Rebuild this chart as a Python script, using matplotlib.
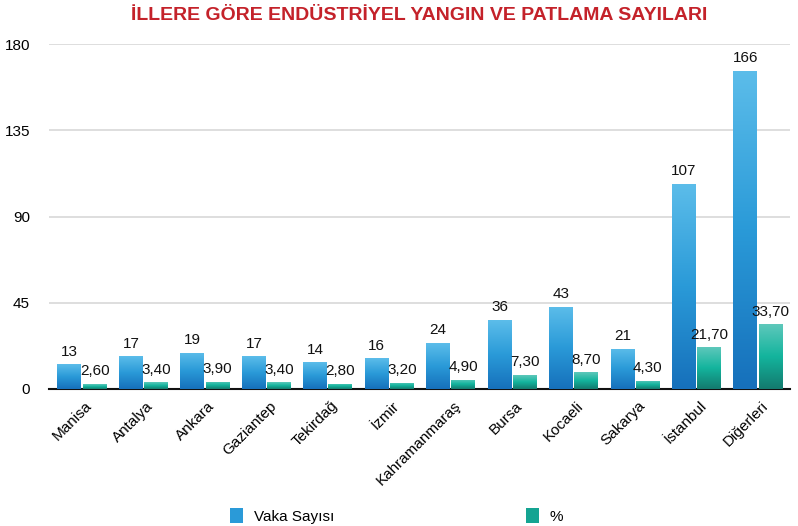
import numpy as np
import matplotlib
matplotlib.use("Agg")
import matplotlib.pyplot as plt
from matplotlib.colors import LinearSegmentedColormap
from matplotlib.patches import Patch
import matplotlib.transforms as mtransforms

plt.rcParams['font.family'] = ['Liberation Sans', 'DejaVu Sans']

# veriler
iller = ['Manisa', 'Antalya', 'Ankara', 'Gaziantep', 'Tekirdağ', 'İzmir',
         'Kahramanmaraş', 'Bursa', 'Kocaeli', 'Sakarya', 'İstanbul', 'Diğerleri']
vaka = [13, 17, 19, 17, 14, 16, 24, 36, 43, 21, 107, 166]
yuzde = [2.60, 3.40, 3.90, 3.40, 2.80, 3.20, 4.90, 7.30, 8.70, 4.30, 21.70, 33.70]
yticks = [0, 45, 90, 135, 180]

blue_cmap = LinearSegmentedColormap.from_list('b', ['#1670bb', '#2a9ad8', '#5cbdea'])
teal_cmap = LinearSegmentedColormap.from_list('t', ['#147a6e', '#13b49d', '#5ec8bb'])

fig = plt.figure(figsize=(7.98, 5.26), dpi=100)
ax = fig.add_axes([0.062, 0.2605, 0.928, 0.6558])

x = np.arange(len(iller))
w = 0.39
gap = 0.02
grad = np.linspace(0, 1, 256).reshape(-1, 1)

def grad_bar(xc, h, cmap):
    bars = ax.bar(xc, h, width=w, color='none', edgecolor='none', zorder=3)
    for b in bars:
        x0, y0 = b.get_x(), b.get_y()
        im = ax.imshow(grad, cmap=cmap, origin='lower', aspect='auto',
                       extent=[x0, x0 + b.get_width(), y0, y0 + b.get_height()],
                       zorder=3)
        im.set_clip_path(b)
    return bars

xb = x - w / 2 - gap / 2
xt = x + w / 2 + gap / 2
grad_bar(xb, vaka, blue_cmap)
grad_bar(xt, yuzde, teal_cmap)

# bar etiketleri
for xi, v in zip(xb, vaka):
    ax.annotate(str(v), (xi, v), xytext=(0, 4), textcoords='offset points',
                ha='center', va='bottom', fontsize=11, color='#111111')
for xi, v in zip(xt, yuzde):
    ax.annotate(f'{v:.2f}'.replace('.', ','), (xi, v), xytext=(0, 4),
                textcoords='offset points', ha='center', va='bottom',
                fontsize=11, color='#111111')

ax.set_xlim(-0.53, 11.52)
ax.set_ylim(0, 180)
ax.set_yticks(yticks)
ax.set_yticklabels([str(t) for t in yticks], fontsize=11)
ax.yaxis.grid(True, color='#d8d8d8', linewidth=1.2, zorder=0)
ax.set_axisbelow(True)
ax.tick_params(axis='y', length=0, pad=14)
ax.tick_params(axis='x', length=0, pad=4)
for s in ['top', 'right', 'left']:
    ax.spines[s].set_visible(False)
ax.spines['bottom'].set_color('#111111')
ax.spines['bottom'].set_linewidth(1.5)
ax.set_xticks(x)
ax.set_xticklabels(iller, rotation=45, ha='right', rotation_mode='anchor', fontsize=11)
offset = mtransforms.ScaledTranslation(2 / 72, -3 / 72, fig.dpi_scale_trans)
for lab in ax.get_xticklabels():
    lab.set_transform(lab.get_transform() + offset)

fig.text(0.525, 0.970, 'İLLERE GÖRE ENDÜSTRİYEL YANGIN VE PATLAMA SAYILARI',
         ha='center', va='center', fontsize=14, fontweight='bold', color='#c4222a')

handles = [Patch(facecolor='#2a9ad8'), Patch(facecolor='#15a492')]
fig.legend(handles, ['Vaka Sayısı', '%'], loc='center', bbox_to_anchor=(0.497, 0.019),
           ncol=2, frameon=False, fontsize=11, columnspacing=12.5, handlelength=0.9,
           handleheight=1.1, handletextpad=0.7)

fig.savefig('out.png', dpi=100)
